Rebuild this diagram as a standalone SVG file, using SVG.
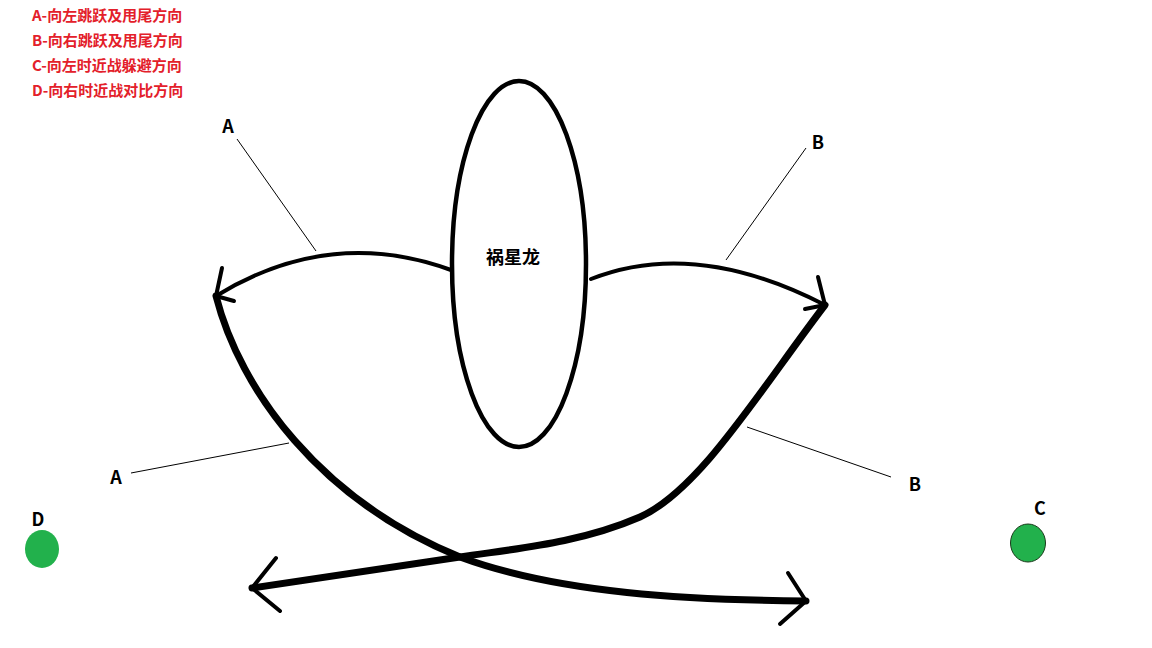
<svg xmlns="http://www.w3.org/2000/svg" width="1152" height="648" viewBox="0 0 1152 648">
<style>
.leg{font-family:"Noto Sans CJK SC","Noto Sans",sans-serif;font-weight:bold;font-size:15px;fill:#e3202a}
.lbl{font-family:"Noto Sans CJK SC","Liberation Sans",sans-serif;font-weight:bold;font-size:18px;fill:#000}
.thin{fill:none;stroke:#000;stroke-width:1}
.mid{fill:none;stroke:#000;stroke-width:4;stroke-linecap:round;stroke-linejoin:round}
.thick{fill:none;stroke:#000;stroke-width:7;stroke-linecap:round;stroke-linejoin:round}
.dot{fill:#22b14c}
</style>
<rect width="1152" height="648" fill="#fff"/>
<g id="legend">
<text class="leg" x="32" y="21">A-向左跳跃及甩尾方向</text>
<text class="leg" x="32" y="46">B-向右跳跃及甩尾方向</text>
<text class="leg" x="32" y="71">C-向左时近战躲避方向</text>
<text class="leg" x="32" y="96">D-向右时近战对比方向</text>
</g>
<g id="dragon">
<ellipse cx="519" cy="264" rx="67" ry="183" fill="#fff" stroke="#000" stroke-width="4.5"/>
<text class="lbl" x="513" y="264" text-anchor="middle">祸星龙</text>
</g>
<g id="connectors">
<path class="mid" d="M451,270 Q330,226 216,296"/>
<path class="mid" d="M222,268 L216,296 L234,301"/>
<path class="mid" d="M591,279 Q695,238 825,305"/>
<path class="mid" d="M818,277 L825,305 L805,309"/>
<path class="thick" d="M216,296 C240,390 320,500 460,557 C560,594 690,600 806,601"/>
<path class="mid" stroke-width="5" d="M788,573 L806,601 L780,624"/>
<path class="thick" stroke-width="8" d="M825,305 C760,390 700,490 640,517 C580,543 520,548 460,557 L252,588"/>
<path class="mid" stroke-width="5" d="M276,558 L252,588 L280,611"/>
<line class="thin" x1="237" y1="139" x2="316" y2="251"/>
<line class="thin" x1="806" y1="148" x2="726" y2="260"/>
<line class="thin" x1="131" y1="473" x2="289" y2="443"/>
<line class="thin" x1="747" y1="427" x2="891" y2="477"/>
</g>
<g id="labelA1"><text class="lbl" x="228" y="133" text-anchor="middle">A</text></g>
<g id="labelB1"><text class="lbl" x="818" y="149" text-anchor="middle">B</text></g>
<g id="labelA2"><text class="lbl" x="116" y="484" text-anchor="middle">A</text></g>
<g id="labelB2"><text class="lbl" x="915" y="491" text-anchor="middle">B</text></g>
<g id="nodeD">
<text class="lbl" x="38" y="526" text-anchor="middle">D</text>
<ellipse class="dot" cx="42" cy="549" rx="17" ry="19"/>
</g>
<g id="nodeC">
<text class="lbl" x="1040" y="515" text-anchor="middle">C</text>
<ellipse class="dot" cx="1028" cy="543" rx="17.5" ry="19" stroke="#1a3a1a" stroke-width="1"/>
</g>
</svg>
